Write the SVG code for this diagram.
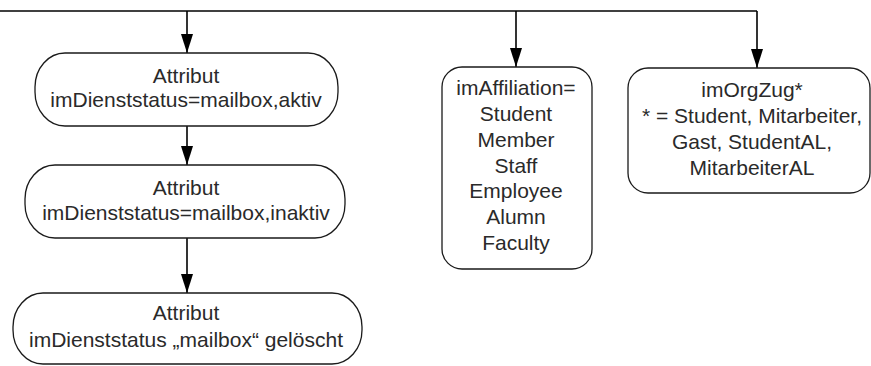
<svg xmlns="http://www.w3.org/2000/svg" width="871" height="366" viewBox="0 0 871 366">
  <style>
    .box { fill: #ffffff; stroke: #1a1a1a; stroke-width: 1.3; }
    .wire { fill: none; stroke: #000000; stroke-width: 1.6; }
    .lbl { font-family: "Liberation Sans", Arial, sans-serif; font-size: 21px; fill: #2a2a2a; text-anchor: middle; }
  </style>
  <defs>
    <marker id="head" markerUnits="userSpaceOnUse" markerWidth="20" markerHeight="12" refX="19" refY="6" orient="auto">
      <path d="M0,0 L19,6 L0,12 z" fill="#000000"/>
    </marker>
  </defs>
  <rect width="871" height="366" fill="#ffffff"/>

  <g id="connectors">
    <path class="wire" d="M0,11 H757"/>
    <path class="wire" d="M187,11 V53" marker-end="url(#head)"/>
    <path class="wire" d="M516,11 V67" marker-end="url(#head)"/>
    <path class="wire" d="M757,11 V68" marker-end="url(#head)"/>
    <path class="wire" d="M187,126 V165" marker-end="url(#head)"/>
    <path class="wire" d="M187,238 V293" marker-end="url(#head)"/>
  </g>

  <g id="node-aktiv">
    <rect class="box" x="35" y="53" width="303" height="73" rx="30" ry="34"/>
    <text class="lbl" x="186" y="83">Attribut</text>
    <text class="lbl" x="186" y="107">imDienststatus=mailbox,aktiv</text>
  </g>

  <g id="node-inaktiv">
    <rect class="box" x="25" y="165" width="320" height="73" rx="30" ry="34"/>
    <text class="lbl" x="186" y="195">Attribut</text>
    <text class="lbl" x="186" y="220">imDienststatus=mailbox,inaktiv</text>
  </g>

  <g id="node-geloescht">
    <rect class="box" x="13" y="293" width="349" height="71" rx="30" ry="34"/>
    <text class="lbl" x="186" y="320">Attribut</text>
    <text class="lbl" x="186" y="347">imDienststatus „mailbox“ gelöscht</text>
  </g>

  <g id="node-affiliation">
    <rect class="box" x="442" y="67" width="150" height="202" rx="20" ry="20"/>
    <text class="lbl" x="516" y="95">imAffiliation=</text>
    <text class="lbl" x="516" y="121">Student</text>
    <text class="lbl" x="516" y="147">Member</text>
    <text class="lbl" x="516" y="173">Staff</text>
    <text class="lbl" x="516" y="198">Employee</text>
    <text class="lbl" x="516" y="224">Alumn</text>
    <text class="lbl" x="516" y="250">Faculty</text>
  </g>

  <g id="node-orgzug">
    <rect class="box" x="628" y="68" width="242" height="125" rx="20" ry="20"/>
    <text class="lbl" x="752" y="97">imOrgZug*</text>
    <text class="lbl" x="752" y="123">* = Student, Mitarbeiter,</text>
    <text class="lbl" x="752" y="149">Gast, StudentAL,</text>
    <text class="lbl" x="752" y="175">MitarbeiterAL</text>
  </g>
</svg>
